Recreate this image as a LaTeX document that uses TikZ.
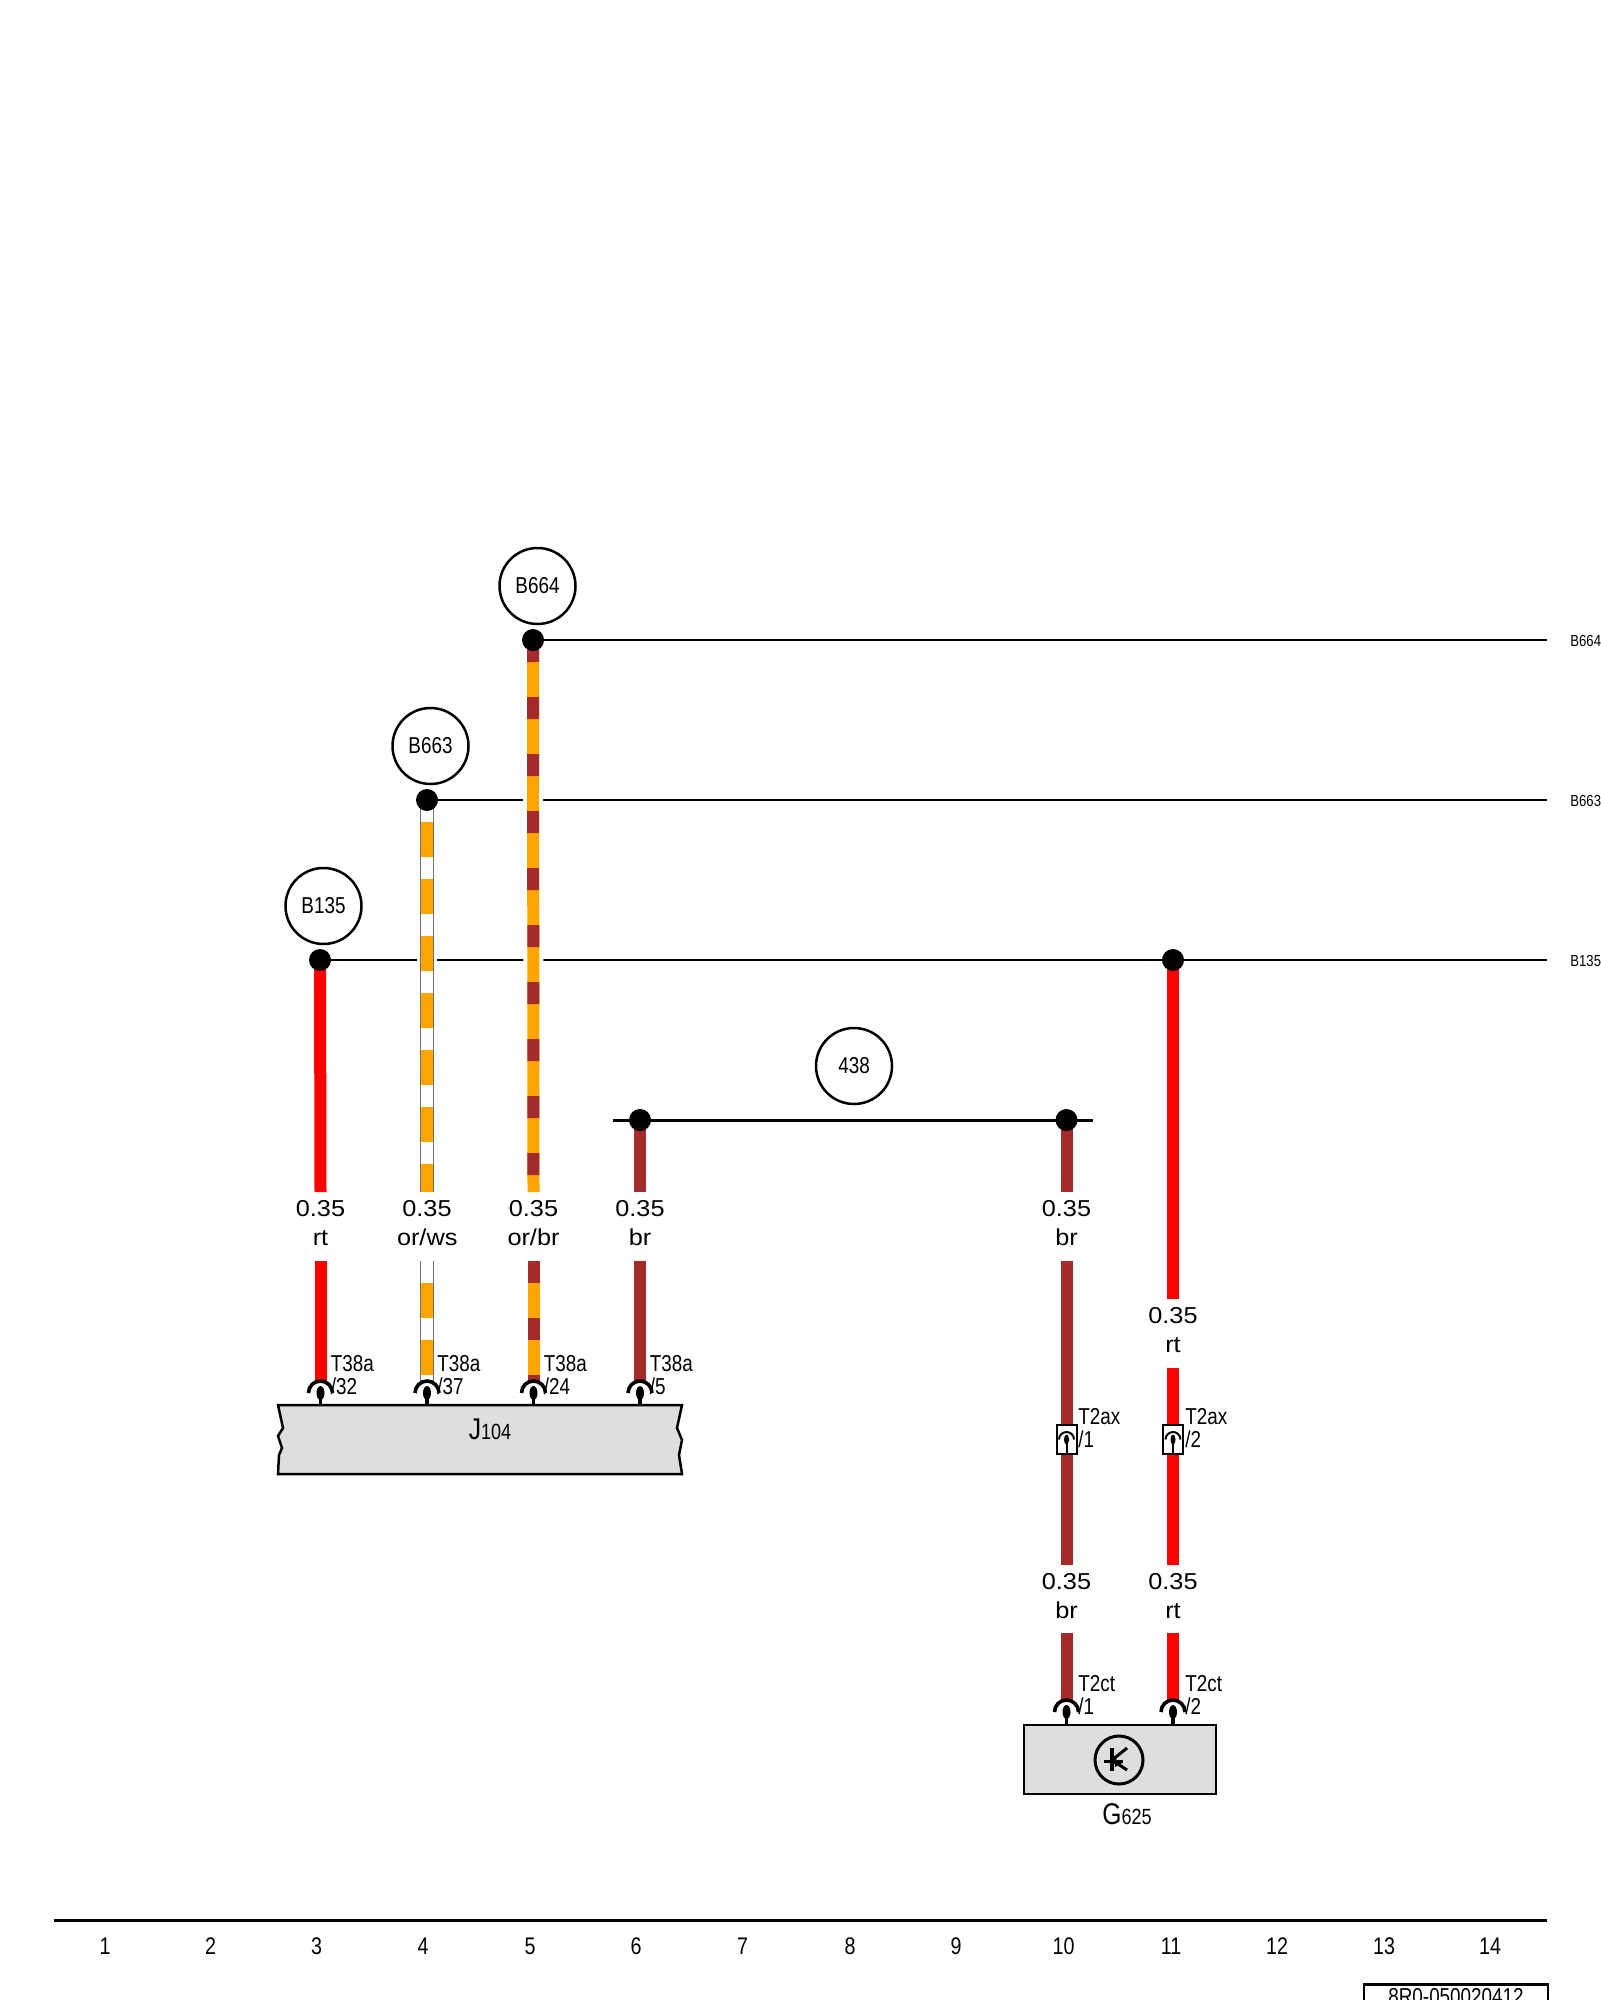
\documentclass[tikz,border=0pt]{standalone}
\usepackage{fontspec}
\setmainfont{Liberation Sans}
\newfontfamily\narrowfont[FakeStretch=0.82]{Liberation Sans}
\newfontfamily\widefont[FakeStretch=1.1]{Liberation Sans}
\usetikzlibrary{shapes.geometric,backgrounds}

\definecolor{wirered}{HTML}{FF0000}
\definecolor{wirebrown}{HTML}{A52A2A}
\definecolor{wireorange}{HTML}{FFA500}
\definecolor{wiregrey}{HTML}{6F6F6F}
\definecolor{boxgrey}{HTML}{DEDEDE}

\tikzset{
	bus/.style={draw=black,line width=1.35pt},
	junction/.style={circle,fill=black,inner sep=0pt,minimum size=11pt},
	bubble/.style={circle,draw=black,line width=1.25pt,inner sep=0pt,minimum size=38pt,font=\narrowfont\fontsize{11.5}{11.5}\selectfont},
	wirert/.style={draw=wirered,line width=6pt},
	wirebr/.style={draw=wirebrown,line width=6pt},
	wireorbr/.style={preaction={draw=white,line width=10pt},preaction={draw=wireorange,line width=6pt},draw=wirebrown,line width=6pt,dash pattern=on 11pt off 17.5pt},
	wireorws/.style={preaction={draw=white,line width=10pt},preaction={draw=wiregrey,line width=7pt},preaction={draw=wireorange,line width=6pt},draw=white,line width=6pt,dash pattern=on 11pt off 17.5pt},
	gauge/.style={align=center,inner sep=0pt,text width=30pt,text depth=18pt,minimum height=34pt,font=\widefont\fontsize{11.5}{14.5}\selectfont},
	pinhead/.style={circle,inner sep=0pt,minimum size=12pt},
	pinlabel/.style={anchor=west,align=left,inner sep=0pt,font=\narrowfont\fontsize{11.5}{11.5}\selectfont},
	plug/.style={draw=black,fill=white,line width=1pt,inner sep=0pt,minimum width=10pt,minimum height=14.5pt},
	sidelabel/.style={anchor=west,inner sep=0pt,font=\narrowfont\fontsize{8}{8}\selectfont},
	unit/.style={draw=black,fill=boxgrey,line width=1.25pt},
	gridnum/.style={inner sep=0pt,font=\narrowfont\fontsize{12}{12}\selectfont}
}

% pin arc and drop: node, radius, drop x, drop y, line
\newcommand{\pinmark}[5]{
	\draw [black,line width=#5] (#1.center) ++(-#2,0) arc [start angle=180,end angle=0,radius=#2];
	\fill [black] (#1.center) ellipse [x radius=#3,y radius=#4];
}

\begin{document}
\begin{tikzpicture}[x=0.5pt,y=0.5pt]
	\useasboundingbox (0,0) rectangle (1600,-2000);

	% junctions and bubbles
	\node [junction] (dotA) at (320,-960) {};
	\node [junction] (dotB) at (427,-800) {};
	\node [junction] (dotC) at (533,-640) {};
	\node [junction] (dotD) at (640,-1120) {};
	\node [junction] (dotE) at (1066.5,-1120) {};
	\node [junction] (dotF) at (1173,-960) {};
	\node [bubble] (bubA) at (323.5,-906) {B135};
	\node [bubble] (bubB) at (430.5,-746) {B663};
	\node [bubble] (bubC) at (537.5,-586) {B664};
	\node [bubble] (bubD) at (854,-1066) {438};

	% bus ends
	\node [sidelabel] (endC) at (1570,-641) {B664};
	\node [sidelabel] (endB) at (1570,-801) {B663};
	\node [sidelabel] (endA) at (1570,-961) {B135};
	\coordinate (stopC) at (1547,-640);
	\coordinate (stopB) at (1547,-800);
	\coordinate (stopA) at (1547,-960);
	\coordinate (stubL) at (613,-1120);
	\coordinate (stubR) at (1093,-1120);

	% gauge labels
	\node [gauge] (labA) at (320.5,-1226.5) {0.35\\rt};
	\node [gauge] (labB) at (427,-1226.5) {0.35\\or/ws};
	\node [gauge] (labC) at (533.5,-1226.5) {0.35\\or/br};
	\node [gauge] (labD) at (640,-1226.5) {0.35\\br};
	\node [gauge] (labE) at (1066.5,-1226.5) {0.35\\br};
	\node [gauge] (labF) at (1173,-1333.5) {0.35\\rt};
	\node [gauge] (labG) at (1066.5,-1599) {0.35\\br};
	\node [gauge] (labH) at (1173,-1599) {0.35\\rt};

	% units
	\draw [unit] (278,-1405) -- (682,-1405) -- (677,-1428) -- (682,-1440) -- (679,-1455) -- (682,-1474)
		-- (278,-1474) -- (279,-1455) -- (282,-1448) -- (278,-1436) -- (283,-1428) -- cycle;
	\node [inner sep=0pt,anchor=base] (nameJ) at (490,-1439) {\narrowfont\fontsize{15}{15}\selectfont J\fontsize{11}{11}\selectfont 104};
	\node [unit,inner sep=0pt,minimum width=96pt,minimum height=34.5pt] (boxG) at (1120,-1759.5) {};
	\node [inner sep=0pt,anchor=base] (nameG) at (1127,-1824) {\narrowfont\fontsize{15}{15}\selectfont G\fontsize{11}{11}\selectfont 625};
	\node [circle,draw=black,line width=1.5pt,inner sep=0pt,minimum size=24pt] (sensor) at (1119,-1760) {};
	\coordinate (boxJ) at (320,-1405);

	% pins
	\node [pinhead] (pinA) at (320.5,-1393) {};
	\node [pinhead] (pinB) at (427,-1393) {};
	\node [pinhead] (pinC) at (533.5,-1393) {};
	\node [pinhead] (pinD) at (640,-1393) {};
	\node [pinhead] (pinE) at (1066.5,-1712) {};
	\node [pinhead] (pinF) at (1173,-1712) {};
	\node [plug] (plugE) at (1066.5,-1439.5) {};
	\node [plug] (plugF) at (1173,-1439.5) {};
	\node [pinlabel] at (330.5,-1375) {T38a\\/32};
	\node [pinlabel] at (437,-1375) {T38a\\/37};
	\node [pinlabel] at (543.5,-1375) {T38a\\/24};
	\node [pinlabel] at (649.5,-1375) {T38a\\/5};
	\node [pinlabel] at (1078,-1428) {T2ax\\/1};
	\node [pinlabel] at (1185,-1428) {T2ax\\/2};
	\node [pinlabel] at (1078,-1695) {T2ct\\/1};
	\node [pinlabel] at (1185,-1695) {T2ct\\/2};

	\begin{scope}[on background layer]
		\draw [bus] (dotA.center) -- (stopA);
		\draw [bus] (dotB.center) -- (stopB);
		\draw [bus] (dotC.center) -- (stopC);
		\draw [bus,line width=1.5pt] (stubL) -- (stubR);
		\draw [wirert] (dotA.center) -- (labA.north);
		\draw [wirert] (labA.south) -- (pinA.north);
		\draw [wireorws] (dotB.center) -- (labB.north);
		\draw [wireorws] (labB.south) -- (pinB.north);
		\draw [wireorbr] (dotC.center) -- (labC.north);
		\draw [wireorbr] (labC.south) -- (pinC.north);
		\draw [wirebr] (dotD.center) -- (labD.north);
		\draw [wirebr] (labD.south) -- (pinD.north);
		\draw [wirebr] (dotE.center) -- (labE.north);
		\draw [wirebr] (labE.south) -- (plugE.north);
		\draw [wirebr] (plugE.south) -- (labG.north);
		\draw [wirebr] (labG.south) -- (pinE.north);
		\draw [wirert] (dotF.center) -- (labF.north);
		\draw [wirert] (labF.south) -- (plugF.north);
		\draw [wirert] (plugF.south) -- (labH.north);
		\draw [wirert] (labH.south) -- (pinF.north);
	\end{scope}

	\pinmark{pinA}{12}{4}{7}{1.8pt}
	\pinmark{pinB}{12}{4}{7}{1.8pt}
	\pinmark{pinC}{12}{4}{7}{1.8pt}
	\pinmark{pinD}{12}{4}{7}{1.8pt}
	\pinmark{pinE}{12}{4}{7}{1.8pt}
	\pinmark{pinF}{12}{4}{7}{1.8pt}
	\pinmark{plugE}{7.5}{2.5}{5}{1pt}
	\pinmark{plugF}{7.5}{2.5}{5}{1pt}
	\draw [black,line width=1.75pt] (pinA.center) -- (pinA.center |- boxJ);
	\draw [black,line width=1.75pt] (pinB.center) -- (pinB.center |- boxJ);
	\draw [black,line width=1.75pt] (pinC.center) -- (pinC.center |- boxJ);
	\draw [black,line width=1.75pt] (pinD.center) -- (pinD.center |- boxJ);
	\draw [black,line width=1.75pt] (pinE.center) -- (pinE.center |- boxG.north);
	\draw [black,line width=1.75pt] (pinF.center) -- (pinF.center |- boxG.north);
	\draw [black,line width=1pt] (plugE.center) -- (plugE.south);
	\draw [black,line width=1pt] (plugF.center) -- (plugF.south);

	% sensor symbol
	\draw [black,line width=1.5pt] (1104,-1761) -- (1123,-1761);
	\draw [black,line width=2pt] (1112,-1748) -- (1112,-1771);
	\draw [black,line width=1.5pt] (1112,-1760) -- (1127,-1748);
	\draw [black,line width=1.5pt] (1112,-1760) -- (1127,-1770);
	\fill [black] (1114,-1758) -- (1122,-1763) -- (1115,-1767) -- cycle;

	% grid strip
	\coordinate (gridL) at (54,-1920);
	\coordinate (gridR) at (1547,-1920);
	\draw [black,line width=1.5pt] (gridL) -- (gridR);
	\foreach \num/\gx in {1/105,2/210.5,3/316.5,4/423,5/530,6/636,7/742.5,8/850,9/956,10/1063.5,11/1171,12/1277,13/1384,14/1490}
		\node [gridnum] (grid\num) at (\gx,-1946) {\num};
	\node [draw=black,line width=1.25pt,inner sep=0pt,minimum width=92pt,minimum height=12.5pt,font=\narrowfont\fontsize{11.5}{11.5}\selectfont] (sheet) at (1456,-1997) {8R0-050020412};
\end{tikzpicture}
\end{document}
